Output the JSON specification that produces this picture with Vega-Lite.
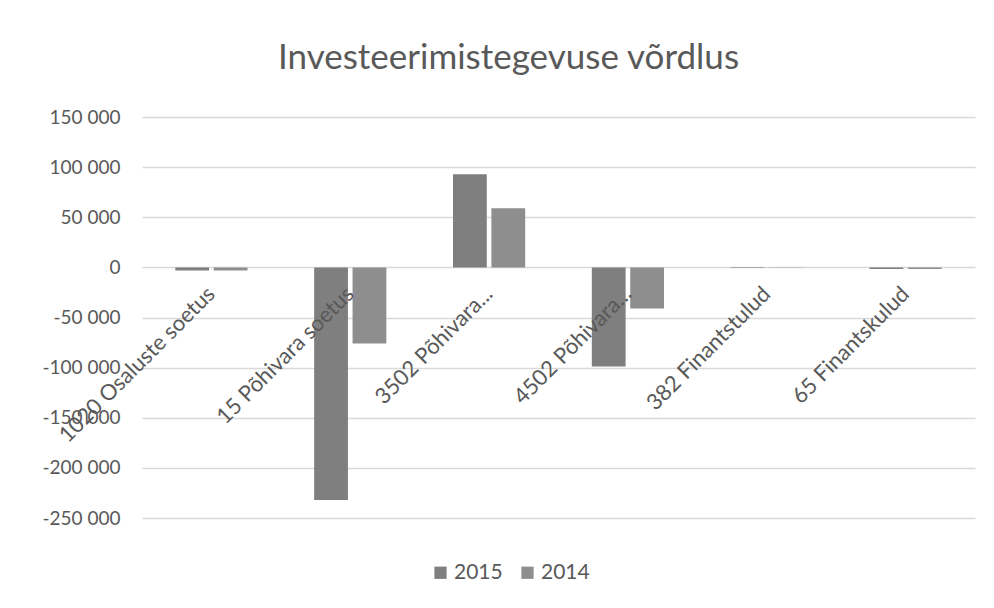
{
  "$schema": "https://vega.github.io/schema/vega-lite/v6.json",
  "autosize": {"type": "none"},
  "width": 833,
  "height": 401,
  "padding": {"left": 142, "top": 117, "right": 19, "bottom": 90},
  "background": "white",
  "title": {
    "text": "Investeerimistegevuse võrdlus",
    "font": "Lato",
    "fontSize": 35,
    "fontWeight": "normal",
    "color": "#595959",
    "anchor": "middle",
    "dx": -50,
    "offset": 32
  },
  "config": {
    "locale": {
      "number": {"decimal": ",", "thousands": " ", "grouping": [3], "currency": ["", " €"], "minus": "-"}
    },
    "view": {"stroke": null},
    "font": "Lato"
  },
  "data": {
    "values": [
      {"kategooria": "1020 Osaluste soetus", "aasta": "2015", "summa": -3000},
      {"kategooria": "1020 Osaluste soetus", "aasta": "2014", "summa": -3000},
      {"kategooria": "15 Põhivara soetus", "aasta": "2015", "summa": -232000},
      {"kategooria": "15 Põhivara soetus", "aasta": "2014", "summa": -76000},
      {"kategooria": "3502 Põhivara...", "aasta": "2015", "summa": 93000},
      {"kategooria": "3502 Põhivara...", "aasta": "2014", "summa": 59000},
      {"kategooria": "4502 Põhivara...", "aasta": "2015", "summa": -99000},
      {"kategooria": "4502 Põhivara...", "aasta": "2014", "summa": -41000},
      {"kategooria": "382 Finantstulud", "aasta": "2015", "summa": 300},
      {"kategooria": "382 Finantstulud", "aasta": "2014", "summa": 200},
      {"kategooria": "65 Finantskulud", "aasta": "2015", "summa": -1500},
      {"kategooria": "65 Finantskulud", "aasta": "2014", "summa": -1500}
    ]
  },
  "mark": {"type": "bar"},
  "encoding": {
    "x": {
      "field": "kategooria",
      "type": "nominal",
      "sort": null,
      "scale": {"paddingInner": 0.48, "paddingOuter": 0.24},
      "axis": {
        "title": null,
        "labelAngle": -45,
        "labelAlign": "right",
        "labelBaseline": "middle",
        "labelPadding": 24,
        "labelFontSize": 22,
        "labelColor": "#595959",
        "labelFont": "Lato",
        "labelLimit": 400,
        "ticks": false,
        "domain": false,
        "offset": -252,
        "zindex": 1
      }
    },
    "xOffset": {"field": "aasta", "sort": ["2015", "2014"], "scale": {"paddingInner": 0.12}},
    "y": {
      "field": "summa",
      "type": "quantitative",
      "scale": {"domain": [-250000, 150000], "nice": false, "zero": true},
      "axis": {
        "title": null,
        "values": [-250000, -200000, -150000, -100000, -50000, 0, 50000, 100000, 150000],
        "format": ",d",
        "labelFontSize": 19,
        "labelColor": "#595959",
        "labelFont": "Lato",
        "labelPadding": 22,
        "ticks": false,
        "domain": false,
        "gridColor": "#d9d9d9",
        "gridWidth": 1.5
      }
    },
    "color": {
      "field": "aasta",
      "type": "nominal",
      "scale": {"domain": ["2015", "2014"], "range": ["#7f7f7f", "#8e8e8e"]},
      "legend": {
        "title": null,
        "orient": "none",
        "direction": "horizontal",
        "legendX": 288,
        "legendY": 445,
        "symbolType": "square",
        "symbolSize": 150,
        "labelFontSize": 21,
        "labelColor": "#595959",
        "labelFont": "Lato",
        "labelOffset": 3,
        "columnPadding": 14
      }
    }
  }
}
